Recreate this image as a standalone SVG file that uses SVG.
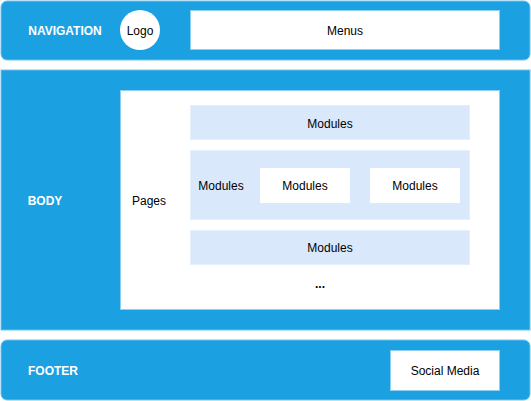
<svg xmlns="http://www.w3.org/2000/svg" width="531" height="401" viewBox="0 0 531 401">
  <style>
    .band { fill: #1ba1e2; stroke: #6ec3ee; stroke-width: 1; }
    .box { fill: #ffffff; stroke: #8ccff0; stroke-width: 1; }
    .mod { fill: #dae8fc; stroke: #e6effc; stroke-width: 1; }
    .plain { fill: #ffffff; stroke: none; }
    text { font-family: "Liberation Sans", Arial, Helvetica, sans-serif; font-size: 12px; fill: #000000; text-anchor: middle; dominant-baseline: central; }
    .head { fill: #ffffff; font-weight: bold; }
  </style>
  <rect width="531" height="401" fill="#ffffff"/>

  <g id="navigation">
    <rect class="band" x="1" y="1" width="529" height="59" rx="6" ry="6"/>
    <text class="head" x="65" y="30.5">NAVIGATION</text>
  </g>
  <g id="logo">
    <circle cx="140" cy="30" r="20" fill="#ffffff"/>
    <text x="140" y="30.5">Logo</text>
  </g>
  <g id="menus">
    <rect class="box" x="190.5" y="10.5" width="309" height="39"/>
    <text x="345" y="30.5">Menus</text>
  </g>

  <g id="body">
    <rect class="band" x="1" y="70" width="529" height="260"/>
    <text class="head" x="45" y="201">BODY</text>
  </g>
  <g id="pages">
    <rect class="box" x="120.5" y="90.5" width="379" height="219"/>
    <text x="149" y="201">Pages</text>
  </g>
  <g id="modules-top">
    <rect class="mod" x="190.5" y="105.5" width="279" height="34"/>
    <text x="330" y="124">Modules</text>
  </g>
  <g id="modules-middle">
    <rect class="mod" x="190.5" y="150.5" width="279" height="69"/>
    <text x="221" y="186">Modules</text>
  </g>
  <g id="modules-inner-1">
    <rect class="plain" x="260" y="168" width="90" height="35"/>
    <text x="305" y="186">Modules</text>
  </g>
  <g id="modules-inner-2">
    <rect class="plain" x="370" y="168" width="90" height="35"/>
    <text x="415" y="186">Modules</text>
  </g>
  <g id="modules-bottom">
    <rect class="mod" x="190.5" y="230.5" width="279" height="34"/>
    <text x="330" y="248">Modules</text>
  </g>
  <g id="more">
    <text x="320" y="284" font-weight="bold">...</text>
  </g>

  <g id="footer">
    <rect class="band" x="1" y="340" width="529" height="60" rx="6" ry="6"/>
    <text class="head" x="53" y="371">FOOTER</text>
  </g>
  <g id="social-media">
    <rect class="box" x="390.5" y="350.5" width="109" height="40"/>
    <text x="445" y="371">Social Media</text>
  </g>

  <g id="connectors"/>
</svg>
